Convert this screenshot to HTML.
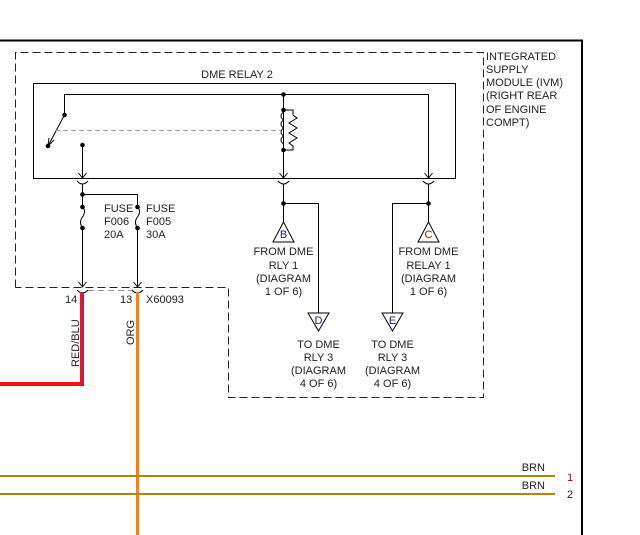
<!DOCTYPE html>
<html><head><meta charset="utf-8"><style>
html,body{margin:0;padding:0;background:#fff;}
svg{display:block;}
text{font-family:"Liberation Sans",Arial,sans-serif;font-size:11px;fill:#222;}
</style></head><body>
<svg width="640" height="535" viewBox="0 0 640 535" xmlns="http://www.w3.org/2000/svg">
<line x1="0" y1="40.5" x2="583" y2="40.5" stroke="#000" stroke-width="2"/>
<line x1="582" y1="40" x2="582" y2="535" stroke="#000" stroke-width="2"/>
<g fill="none" stroke="#222" stroke-width="1" stroke-dasharray="8,4">
<path d="M15.5 287.5 V52.5 H483.5 V397.5 H228.5 V287.5 H15.5"/>
</g>
<g fill="none" stroke="#000" stroke-width="1">
<rect x="33.5" y="83.5" width="422" height="95"/>
<path d="M64.5 115 V94.5 H428.5 V178"/>
<path d="M283.5 94.5 V178"/>
<line x1="64.5" y1="115" x2="48" y2="146"/>
<path d="M49 138 L48 146 L54 140"/>
<line x1="82.5" y1="145" x2="82.5" y2="178"/>
<path d="M283.5 110 H293 V115 L297 118 L289 123 L297 128 L289 133 L297 138 L289 143 L293 146 V150 H283.5"/>
<path d="M283.5 112 q-5 4 0 8 q-5 4 0 8 q-5 4 0 8 q-5 4 0 8"/>
<path d="M78.5 173 L82.5 178 L86.5 173"/>
<path d="M279.5 173 L283.5 178 L287.5 173"/>
<path d="M424.5 173 L428.5 178 L432.5 173"/>
<path d="M77 181 Q82.5 187 88 181"/>
<path d="M278 181 Q283.5 187 289 181"/>
<path d="M423 181 Q428.5 187 434 181"/>
<path d="M82.5 184 V207"/>
<path d="M82.5 194.5 H137.5 V207"/>
<path d="M82.5 207 q4 4 0 10 q-4 5 0 11"/>
<path d="M137.5 207 q4 4 0 10 q-4 5 0 11"/>
<path d="M82.5 228 V287"/>
<path d="M137.5 228 V287"/>
<path d="M78.5 282 L82.5 287 L86.5 282"/>
<path d="M133.5 282 L137.5 287 L141.5 282"/>
<path d="M77 290 Q82.5 296 88 290"/>
<path d="M132 290 Q137.5 296 143 290"/>
<path d="M283.5 184 V222"/>
<path d="M283.5 203.5 H318.5 V313"/>
<path d="M428.5 184 V222"/>
<path d="M428.5 203.5 H392.5 V313"/>
<path d="M283.5 222 L294 242 L273 242 Z"/>
<path d="M428.5 222 L439 242 L418 242 Z"/>
<path d="M308 313 L329 313 L318.5 331 Z"/>
<path d="M382 313 L403 313 L392.5 331 Z"/>
</g>
<line x1="55" y1="130.5" x2="281" y2="130.5" stroke="#999" stroke-width="1" stroke-dasharray="5,3"/>
<line x1="88" y1="290.5" x2="132" y2="290.5" stroke="#999" stroke-width="1" stroke-dasharray="6,4"/>
<g fill="#000">
<circle cx="283.5" cy="94.5" r="2.3"/><circle cx="283.5" cy="110" r="2.3"/><circle cx="283.5" cy="150" r="2.3"/>
<circle cx="64.5" cy="115" r="2.3"/><circle cx="48" cy="146" r="2.3"/><circle cx="82.5" cy="145" r="2.3"/>
<circle cx="82.5" cy="194.5" r="2.3"/><circle cx="82.5" cy="207" r="2.3"/><circle cx="82.5" cy="228" r="2.3"/>
<circle cx="137.5" cy="207" r="2.3"/><circle cx="137.5" cy="228" r="2.3"/>
<circle cx="283.5" cy="203.5" r="2.3"/><circle cx="428.5" cy="203.5" r="2.3"/>
</g>
<path d="M83.5 292 V385.5 H0" fill="none" stroke="#3344dd" stroke-width="1"/>
<path d="M81.5 292 V383.5 H0" fill="none" stroke="#ff1010" stroke-width="3"/>
<line x1="137.5" y1="292" x2="137.5" y2="535" stroke="#ff8000" stroke-width="3"/>
<line x1="0" y1="476" x2="555" y2="476" stroke="#b08800" stroke-width="2"/>
<line x1="0" y1="494" x2="555" y2="494" stroke="#b08800" stroke-width="2"/>
<text x="237" y="78" text-anchor="middle">DME RELAY 2</text>
<text x="104" y="212">FUSE</text><text x="104" y="225">F006</text><text x="104" y="238">20A</text>
<text x="146" y="212">FUSE</text><text x="146" y="225">F005</text><text x="146" y="238">30A</text>
<text x="283.5" y="238" text-anchor="middle" style="fill:#202080">B</text>
<text x="428.5" y="238" text-anchor="middle" style="fill:#802000">C</text>
<text x="318.5" y="324" text-anchor="middle" style="fill:#202080">D</text>
<text x="392.5" y="324" text-anchor="middle" style="fill:#202080">E</text>
<g text-anchor="middle">
<text x="283.5" y="255">FROM DME</text><text x="283.5" y="269">RLY 1</text><text x="283.5" y="282">(DIAGRAM</text><text x="283.5" y="295">1 OF 6)</text>
<text x="428.5" y="255">FROM DME</text><text x="428.5" y="269">RELAY 1</text><text x="428.5" y="282">(DIAGRAM</text><text x="428.5" y="295">1 OF 6)</text>
<text x="318.5" y="348">TO DME</text><text x="318.5" y="361">RLY 3</text><text x="318.5" y="374">(DIAGRAM</text><text x="318.5" y="387">4 OF 6)</text>
<text x="392.5" y="348">TO DME</text><text x="392.5" y="361">RLY 3</text><text x="392.5" y="374">(DIAGRAM</text><text x="392.5" y="387">4 OF 6)</text>
</g>
<text x="486" y="60">INTEGRATED</text><text x="486" y="73">SUPPLY</text><text x="486" y="86">MODULE (IVM)</text>
<text x="486" y="99">(RIGHT REAR</text><text x="486" y="113">OF ENGINE</text><text x="486" y="126">COMPT)</text>
<text x="65" y="303">14</text><text x="120" y="303">13</text><text x="146" y="303">X60093</text>
<text transform="translate(79,367) rotate(-90)">RED/BLU</text>
<text transform="translate(134,345) rotate(-90)">ORG</text>
<text x="545" y="471" text-anchor="end">BRN</text>
<text x="545" y="489" text-anchor="end">BRN</text>
<text x="567" y="481" style="fill:#8b0000">1</text>
<text x="567" y="498">2</text>
</svg>
</body></html>
